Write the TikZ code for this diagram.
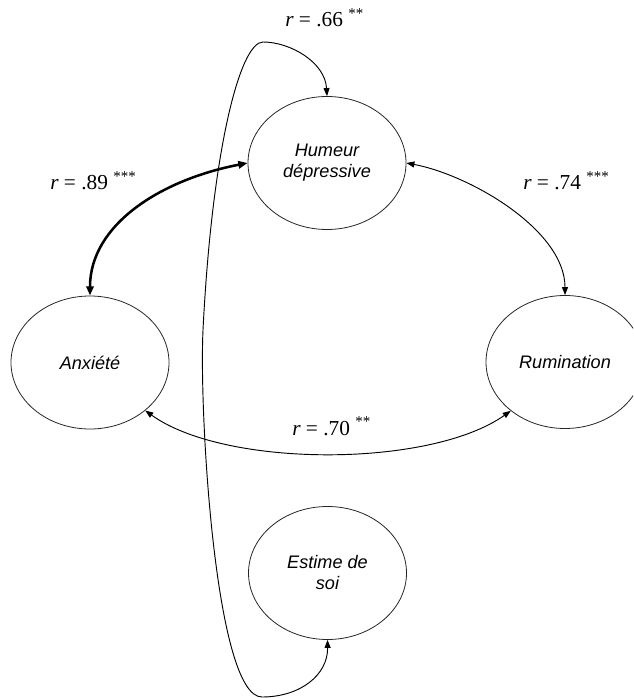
\documentclass[tikz,border=0pt]{standalone}
\usepackage{fontspec}
\setmainfont{Liberation Serif}
\newfontfamily\arialf{Liberation Sans}
\usetikzlibrary{shapes.geometric,arrows.meta}
\begin{document}
\begin{tikzpicture}[x=0.75pt,y=-0.75pt,
 latent/.style={ellipse,draw=black!85,line width=0.6pt,minimum width=118.5pt,minimum height=99.75pt,inner sep=0pt,font=\arialf\itshape\fontsize{13.6}{15.75}\selectfont,align=center},
 link/.style={line width=0.7pt,{Triangle[length=6pt,width=4.5pt]}-{Triangle[length=6pt,width=4.5pt]}},
 thicklink/.style={line width=1.9pt,{Triangle[length=7pt,width=5.5pt]}-{Triangle[length=7pt,width=5.5pt]}},
 coef/.style={anchor=base west,inner sep=0pt,font=\fontsize{16}{19}\selectfont}]
\useasboundingbox (0,0) rectangle (633,698);
\clip (0,0) rectangle (633,698);
\node[latent] (hum) at (327,163) {Humeur\\dépressive};
\node[latent] (anx) at (90,362.5) {Anxiété};
\node[latent] (rum) at (565,362) {Rumination};
\node[latent] (est) at (327.5,573) {Estime de\\soi};
\draw[thicklink] (anx.north) .. controls (90,225) and (160,180) .. (hum.west);
\draw[link] (hum.east) .. controls (470,175) and (565,230) .. (rum.north);
\draw[link] (anx.-41) .. controls (225,468) and (430,468) .. (rum.-138);
\coordinate (lt) at (263,42);
\coordinate (ll) at (203,330);
\coordinate (lb) at (262,697);
\draw[link] (hum.north) .. controls (325,62) and (290,42) .. (lt) .. controls (240,42) and (212,150) .. (ll) .. controls (199,410) and (215,697) .. (lb) .. controls (300,697) and (328,675) .. (est.south);
\node[coef] (l66) at (285,27) {\textit{r} = .66 \textsuperscript{**}};
\node[coef] (l89) at (50,190) {\textit{r} = .89 \textsuperscript{***}};
\node[coef] (l74) at (523,190) {\textit{r} = .74 \textsuperscript{***}};
\node[coef] (l70) at (292,435) {\textit{r} = .70 \textsuperscript{**}};
\end{tikzpicture}
\end{document}
